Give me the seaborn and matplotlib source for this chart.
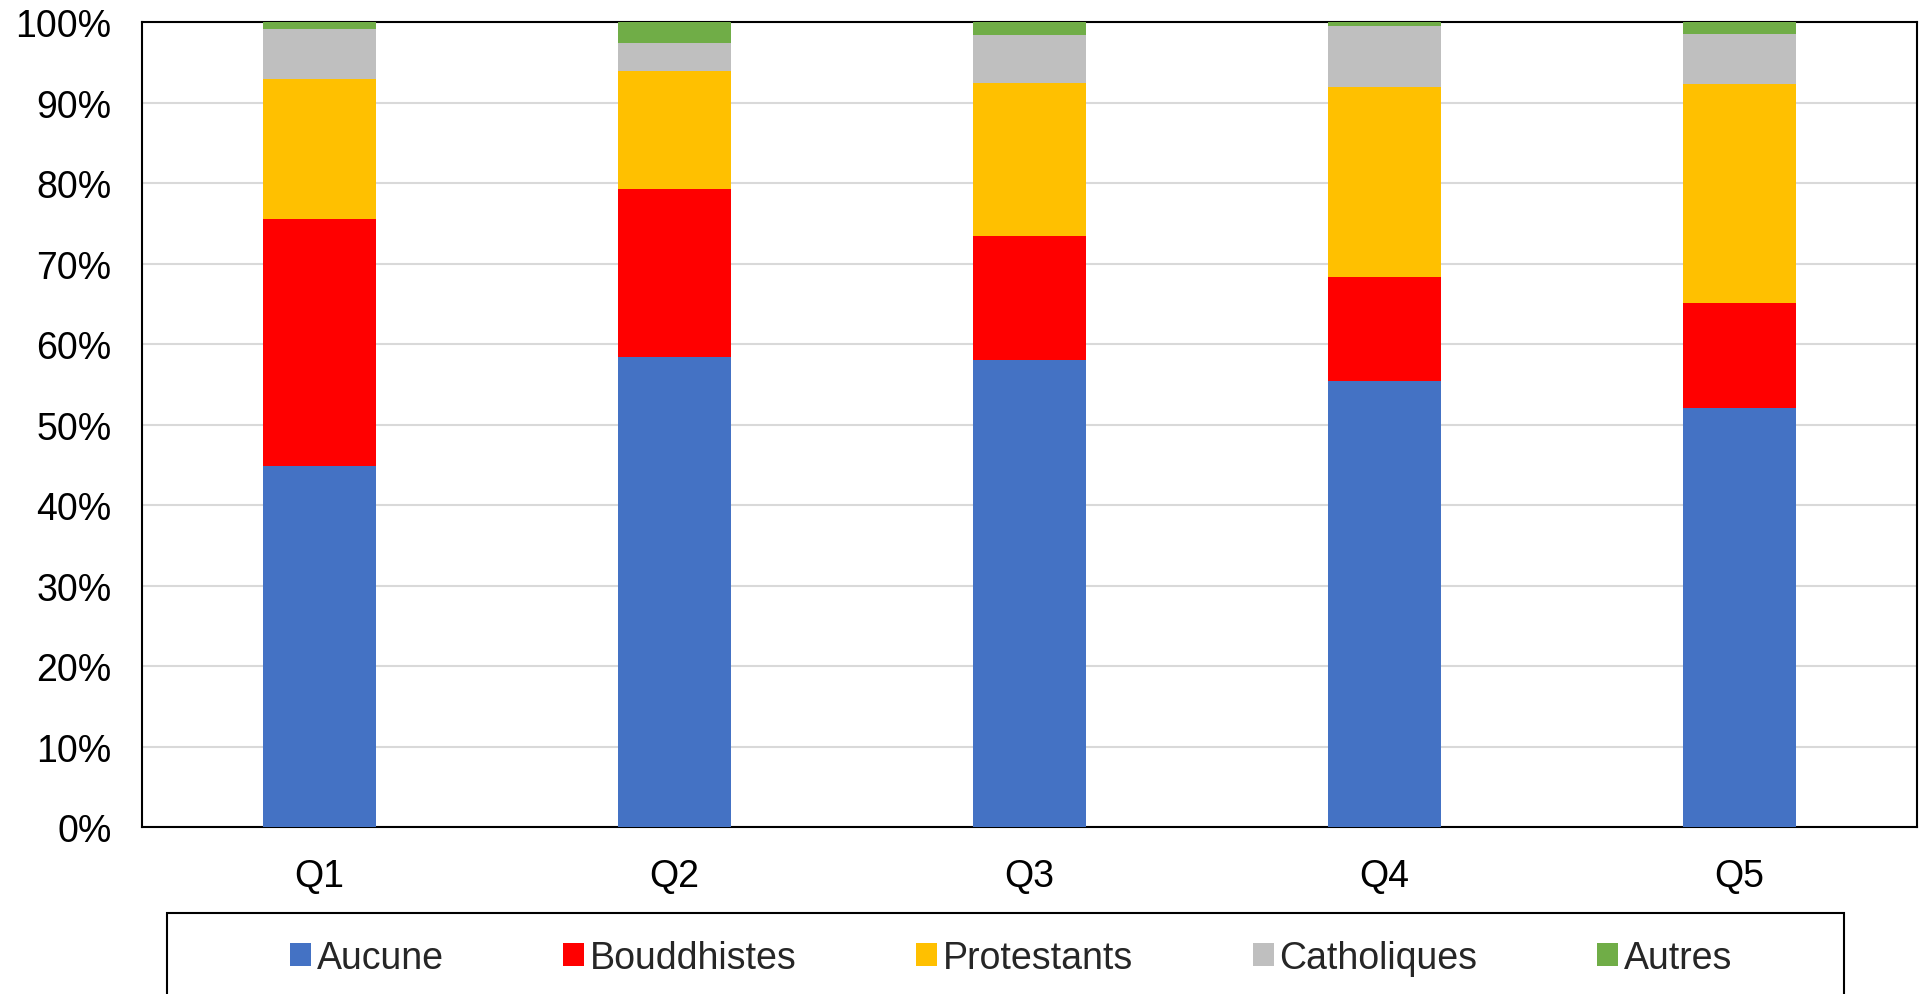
import numpy as np
import pandas as pd
import matplotlib.pyplot as plt
from matplotlib.patches import Patch, Rectangle
import seaborn as sns

# data (percent of each quintile)
QUINTILES   = ['Q1', 'Q2', 'Q3', 'Q4', 'Q5']
AUCUNE      = [44.9, 58.4, 58.0, 55.4, 52.1]
BOUDDHISTES = [30.6, 20.9, 15.5, 13.0, 13.0]
PROTESTANTS = [17.45, 14.6, 19.0, 23.6, 27.2]
CATHOLIQUES = [6.25, 3.5, 5.9, 7.5, 6.3]
AUTRES      = [0.8, 2.6, 1.6, 0.5, 1.4]

SERIES = ['Aucune', 'Bouddhistes', 'Protestants', 'Catholiques', 'Autres']
COLORS = ['#4472C4', '#FF0000', '#FFC000', '#BFBFBF', '#70AD47']

sns.set_style('white')
plt.rcParams['font.family'] = ['Liberation Sans', 'DejaVu Sans']

df = pd.DataFrame({'Q': QUINTILES, 'Aucune': AUCUNE, 'Bouddhistes': BOUDDHISTES,
                   'Protestants': PROTESTANTS, 'Catholiques': CATHOLIQUES,
                   'Autres': AUTRES})
cum = df[SERIES].cumsum(axis=1)

fig = plt.figure(figsize=(19.19, 9.95), dpi=100)
ax = fig.add_axes([0.074, 0.1678, 0.925, 0.8088])

# stacked bars: draw the tallest cumulative first, then overlay lower ones
for name, color in reversed(list(zip(SERIES, COLORS))):
    sns.barplot(x=df['Q'], y=cum[name], color=color, width=0.316,
                saturation=1, linewidth=0, ax=ax, zorder=3)

ax.set_xlim(-0.5, 4.5)
ax.set_ylim(0, 100)
ax.set_yticks(np.arange(0, 101, 10))
ax.set_yticklabels([f'{v}%' for v in range(0, 101, 10)])
ax.set_xlabel('')
ax.set_ylabel('')
ax.yaxis.grid(True, color='#d9d9d9', linewidth=1.5, zorder=0)
ax.set_axisbelow(True)
ax.tick_params(axis='both', length=0, labelsize=27, colors='black')
ax.tick_params(axis='y', pad=22)
ax.tick_params(axis='x', pad=22)
for s in ax.spines.values():
    s.set_visible(True)
    s.set_color('black')
    s.set_linewidth(1.5)

# legend box
fig.patches.append(Rectangle((167 / 1919, -0.02), (1844 - 167) / 1919,
                             1 - 914 / 995 + 0.02, transform=fig.transFigure,
                             fill=False, edgecolor='black', linewidth=1.5))
handles = [Patch(facecolor=c, edgecolor='none') for c in COLORS]
fig.legend(handles, SERIES, loc='center', bbox_to_anchor=(1011 / 1919, 1 - 959 / 995),
           ncol=5, frameon=False, fontsize=27, handlelength=0.55,
           handleheight=0.55, handletextpad=0.15, columnspacing=3.2)

plt.savefig('out.png', dpi=100)
